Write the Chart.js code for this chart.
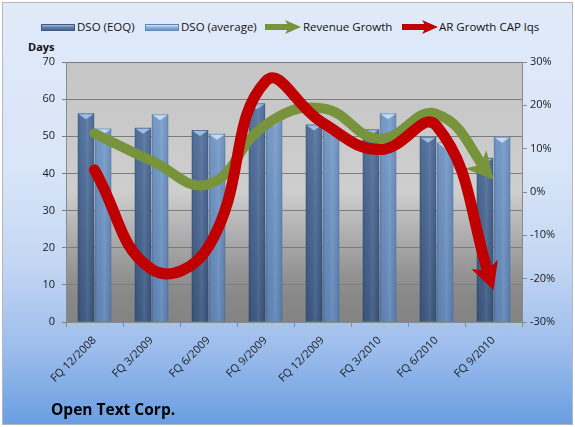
<!DOCTYPE html>
<html lang="en">
<head>
<meta charset="UTF-8">
<title>Open Text Corp. - DSO vs Growth</title>
<script src="https://cdn.jsdelivr.net/npm/chart.js"></script>
<style>
  * { margin: 0; padding: 0; box-sizing: border-box; }
  body { width: 575px; height: 427px; background: #fff; font-family: 'Open Sans', sans-serif; overflow: hidden; position: relative; }
  .frame {
    position: absolute; left: 2px; top: 2px; width: 571px; height: 423px;
    border: 1px solid #b7b7b7;
    background: linear-gradient(180deg, #e0eaf9 0%, #d8e5f8 40%, #c3d6f3 62%, #9dbdec 82%, #6a9ee2 100%);
  }
  #chartBox { position: absolute; left: 0; top: 0; width: 575px; height: 427px; }
  .legend { position: absolute; top: 19px; left: 0; height: 16px; font-size: 11.5px; color: #111; }
  .legend span { position: absolute; top: 0; white-space: nowrap; line-height: 16px; }
  .sw { position: absolute; top: 5px; width: 34px; height: 7px; }
  .sw.eoq { background: linear-gradient(180deg, #a3b8d6 0%, #5d7ca6 50%, #46668f 100%); border: 1px solid #3e5d86; }
  .sw.avg { background: linear-gradient(180deg, #d2e4f7 0%, #8eb1dc 50%, #6c93c4 100%); border: 1px solid #5f86b8; }
  .legend svg { position: absolute; top: 1px; }
  .days { position: absolute; left: 28px; top: 39px; font-size: 11px; font-weight: bold; color: #111; }
  .title { position: absolute; left: 51px; top: 398px; font-size: 15.5px; font-weight: bold; color: #000; }
</style>
</head>
<body>
<div class="frame"></div>
<div class="legend">
  <div class="sw eoq" style="left:41px"></div><span style="left:77px">DSO (EOQ)</span>
  <div class="sw avg" style="left:145px"></div><span style="left:181px">DSO (average)</span>
  <svg style="left:265px" width="36" height="14" viewBox="0 0 36 14"><path d="M0 7 H24" stroke="#77933c" stroke-width="6"/><path d="M36 7 L20 0 L24 7 L20 14 Z" fill="#77933c"/></svg>
  <span style="left:303px">Revenue Growth</span>
  <svg style="left:402px" width="36" height="14" viewBox="0 0 36 14"><path d="M0 7 H24" stroke="#c00000" stroke-width="6"/><path d="M36 7 L20 0 L24 7 L20 14 Z" fill="#c00000"/></svg>
  <span style="left:439px">AR Growth CAP lqs</span>
</div>
<div class="days">Days</div>
<div id="chartBox"><canvas id="dsoChart" width="575" height="427"></canvas></div>
<div class="title">Open Text Corp.</div>

<script>
// data
const categories = ['FQ 12/2008', 'FQ 3/2009', 'FQ 6/2009', 'FQ 9/2009', 'FQ 12/2009', 'FQ 3/2010', 'FQ 6/2010', 'FQ 9/2010'];
const dsoEoq = [56.2, 52.3, 51.7, 58.9, 53.2, 51.9, 49.9, 44.2];
const dsoAvg = [52.1, 55.9, 50.7, 54.4, 51.9, 56.2, 48.4, 49.9];
const revenueGrowth = [13.5, 7.2, 1.8, 15.5, 19.3, 12.3, 18.0, 2.8];
const arGrowth = [5.1, -17.8, -12.6, 25.5, 16.0, 9.8, 15.3, -22.6];
const daysRange = [0, 70];
const pctRange = [-30, 30];

const tickFont = { family: "'Open Sans', sans-serif", size: 11 };

function barFill(top, bottom) {
  return function(ctx) {
    const area = ctx.chart.chartArea;
    if (!area) return bottom;
    const g = ctx.chart.ctx.createLinearGradient(0, area.top, 0, area.bottom);
    g.addColorStop(0, top);
    g.addColorStop(1, bottom);
    return g;
  };
}

// grey plot background
const plotBg = {
  id: 'plotBg',
  beforeDraw(chart) {
    const { ctx, chartArea: a } = chart;
    const g = ctx.createLinearGradient(0, a.top, 0, a.bottom);
    g.addColorStop(0, '#c5c5c5');
    g.addColorStop(0.5, '#cecece');
    g.addColorStop(0.6, '#bababa');
    g.addColorStop(0.8, '#969696');
    g.addColorStop(0.9, '#888888');
    g.addColorStop(1, '#838383');
    ctx.save();
    ctx.fillStyle = g;
    ctx.fillRect(a.left, a.top, a.right - a.left, a.bottom - a.top);
    ctx.restore();
  }
};

// cylinder-ish shading and light caps on bars
const barShade = {
  id: 'barShade',
  afterDatasetDraw(chart, args) {
    if (args.meta.type !== 'bar') return;
    const ctx = chart.ctx;
    const capColor = args.index === 0 ? '#9fbde2' : '#c2dbf5';
    args.meta.data.forEach(el => {
      const { x, y, base, width } = el.getProps(['x', 'y', 'base', 'width'], true);
      const l = x - width / 2, r = x + width / 2;
      ctx.save();
      const g = ctx.createLinearGradient(l, 0, r, 0);
      g.addColorStop(0, 'rgba(0,0,0,0.18)');
      g.addColorStop(0.15, 'rgba(0,0,0,0.02)');
      g.addColorStop(0.6, 'rgba(255,255,255,0.08)');
      g.addColorStop(0.9, 'rgba(0,0,0,0.05)');
      g.addColorStop(1, 'rgba(0,0,0,0.2)');
      ctx.fillStyle = g;
      ctx.fillRect(l, y, width, base - y);
      ctx.fillStyle = capColor;
      ctx.beginPath();
      ctx.moveTo(l + 1, y + 1);
      ctx.lineTo(r - 1, y + 1);
      ctx.lineTo(x, y + 6);
      ctx.closePath();
      ctx.fill();
      ctx.restore();
    });
  }
};

// arrow heads at the end of the growth lines
function headOf(meta) {
  const pts = meta.data;
  const p = pts[pts.length - 1];
  let dx = p.x - p.cp1x, dy = p.y - p.cp1y;
  if (!isFinite(dx) || (dx === 0 && dy === 0)) {
    const q = pts[pts.length - 2];
    dx = p.x - q.x; dy = p.y - q.y;
  }
  const len = Math.hypot(dx, dy);
  const u = { x: dx / len, y: dy / len };
  const n = { x: -u.y, y: u.x };
  const L = 27, W = 14;
  const b = { x: p.x - u.x * L, y: p.y - u.y * L };
  const notch = { x: b.x + u.x * 7, y: b.y + u.y * 7 };
  return { tip: p, u, n, b, notch, W };
}

const arrowHeads = {
  id: 'arrowHeads',
  beforeDatasetDraw(chart, args) {
    if (args.meta.type !== 'line') return;
    const h = headOf(args.meta);
    const ctx = chart.ctx;
    const c = { x: h.notch.x + h.u.x * 1, y: h.notch.y + h.u.y * 1 };
    ctx.save();
    ctx.beginPath();
    ctx.rect(0, 0, chart.width, chart.height);
    ctx.moveTo(c.x + h.n.x * 30, c.y + h.n.y * 30);
    ctx.lineTo(c.x + h.n.x * 30 + h.u.x * 60, c.y + h.n.y * 30 + h.u.y * 60);
    ctx.lineTo(c.x - h.n.x * 30 + h.u.x * 60, c.y - h.n.y * 30 + h.u.y * 60);
    ctx.lineTo(c.x - h.n.x * 30, c.y - h.n.y * 30);
    ctx.closePath();
    ctx.clip('evenodd');
  },
  afterDatasetDraw(chart, args) {
    if (args.meta.type !== 'line') return;
    const ctx = chart.ctx;
    ctx.restore();
    const h = headOf(args.meta);
    ctx.save();
    ctx.fillStyle = args.meta.dataset.options.borderColor;
    ctx.beginPath();
    ctx.moveTo(h.tip.x, h.tip.y);
    ctx.lineTo(h.b.x + h.n.x * h.W, h.b.y + h.n.y * h.W);
    ctx.lineTo(h.notch.x, h.notch.y);
    ctx.lineTo(h.b.x - h.n.x * h.W, h.b.y - h.n.y * h.W);
    ctx.closePath();
    ctx.fill();
    ctx.restore();
  }
};

new Chart(document.getElementById('dsoChart'), {
  type: 'bar',
  data: {
    labels: categories,
    datasets: [
      {
        label: 'DSO (EOQ)', data: dsoEoq, yAxisID: 'y', order: 2,
        backgroundColor: barFill('#5d7daa', '#3c5880'),
        borderWidth: 0,
        barPercentage: 0.96, categoryPercentage: 0.6
      },
      {
        label: 'DSO (average)', data: dsoAvg, yAxisID: 'y', order: 3,
        backgroundColor: barFill('#80a4d1', '#5f85b6'),
        borderWidth: 0,
        barPercentage: 0.96, categoryPercentage: 0.6
      },
      {
        type: 'line', label: 'Revenue Growth', data: revenueGrowth, yAxisID: 'y1', order: 1,
        borderColor: '#77933c', borderWidth: 10, tension: 0.45,
        borderCapStyle: 'round', pointRadius: 0, fill: false
      },
      {
        type: 'line', label: 'AR Growth CAP lqs', data: arGrowth, yAxisID: 'y1', order: 0,
        borderColor: '#c00000', borderWidth: 11, tension: 0.45,
        borderCapStyle: 'round', pointRadius: 0, fill: false
      }
    ]
  },
  options: {
    responsive: false,
    animation: false,
    layout: { padding: { top: 62, left: 0, right: 0, bottom: 0 } },
    plugins: {
      legend: { display: false },
      title: { display: false },
      tooltip: { enabled: false }
    },
    scales: {
      x: {
        offset: true,
        grid: { offset: true, drawOnChartArea: false, drawTicks: true, tickLength: 5, color: '#8a8a8a' },
        border: { color: '#8a8a8a' },
        ticks: { minRotation: 45, maxRotation: 45, font: tickFont, color: '#1a1a1a', padding: 7 },
        afterFit(s) { s.height = 105; }
      },
      y: {
        position: 'left',
        min: daysRange[0], max: daysRange[1],
        ticks: { stepSize: 10, font: tickFont, color: '#1a1a1a', padding: 7 },
        grid: { color: '#7c7c7c', tickLength: 4 },
        border: { color: '#8a8a8a' },
        afterFit(s) { s.width = 66; }
      },
      y1: {
        position: 'right',
        min: pctRange[0], max: pctRange[1],
        ticks: { stepSize: 10, font: tickFont, color: '#1a1a1a', padding: 3, callback: v => v + '%' },
        grid: { drawOnChartArea: false, tickLength: 5, color: '#8a8a8a' },
        border: { color: '#8a8a8a' },
        afterFit(s) { s.width = 53; }
      }
    }
  },
  plugins: [plotBg, barShade, arrowHeads]
});
</script>
</body>
</html>
